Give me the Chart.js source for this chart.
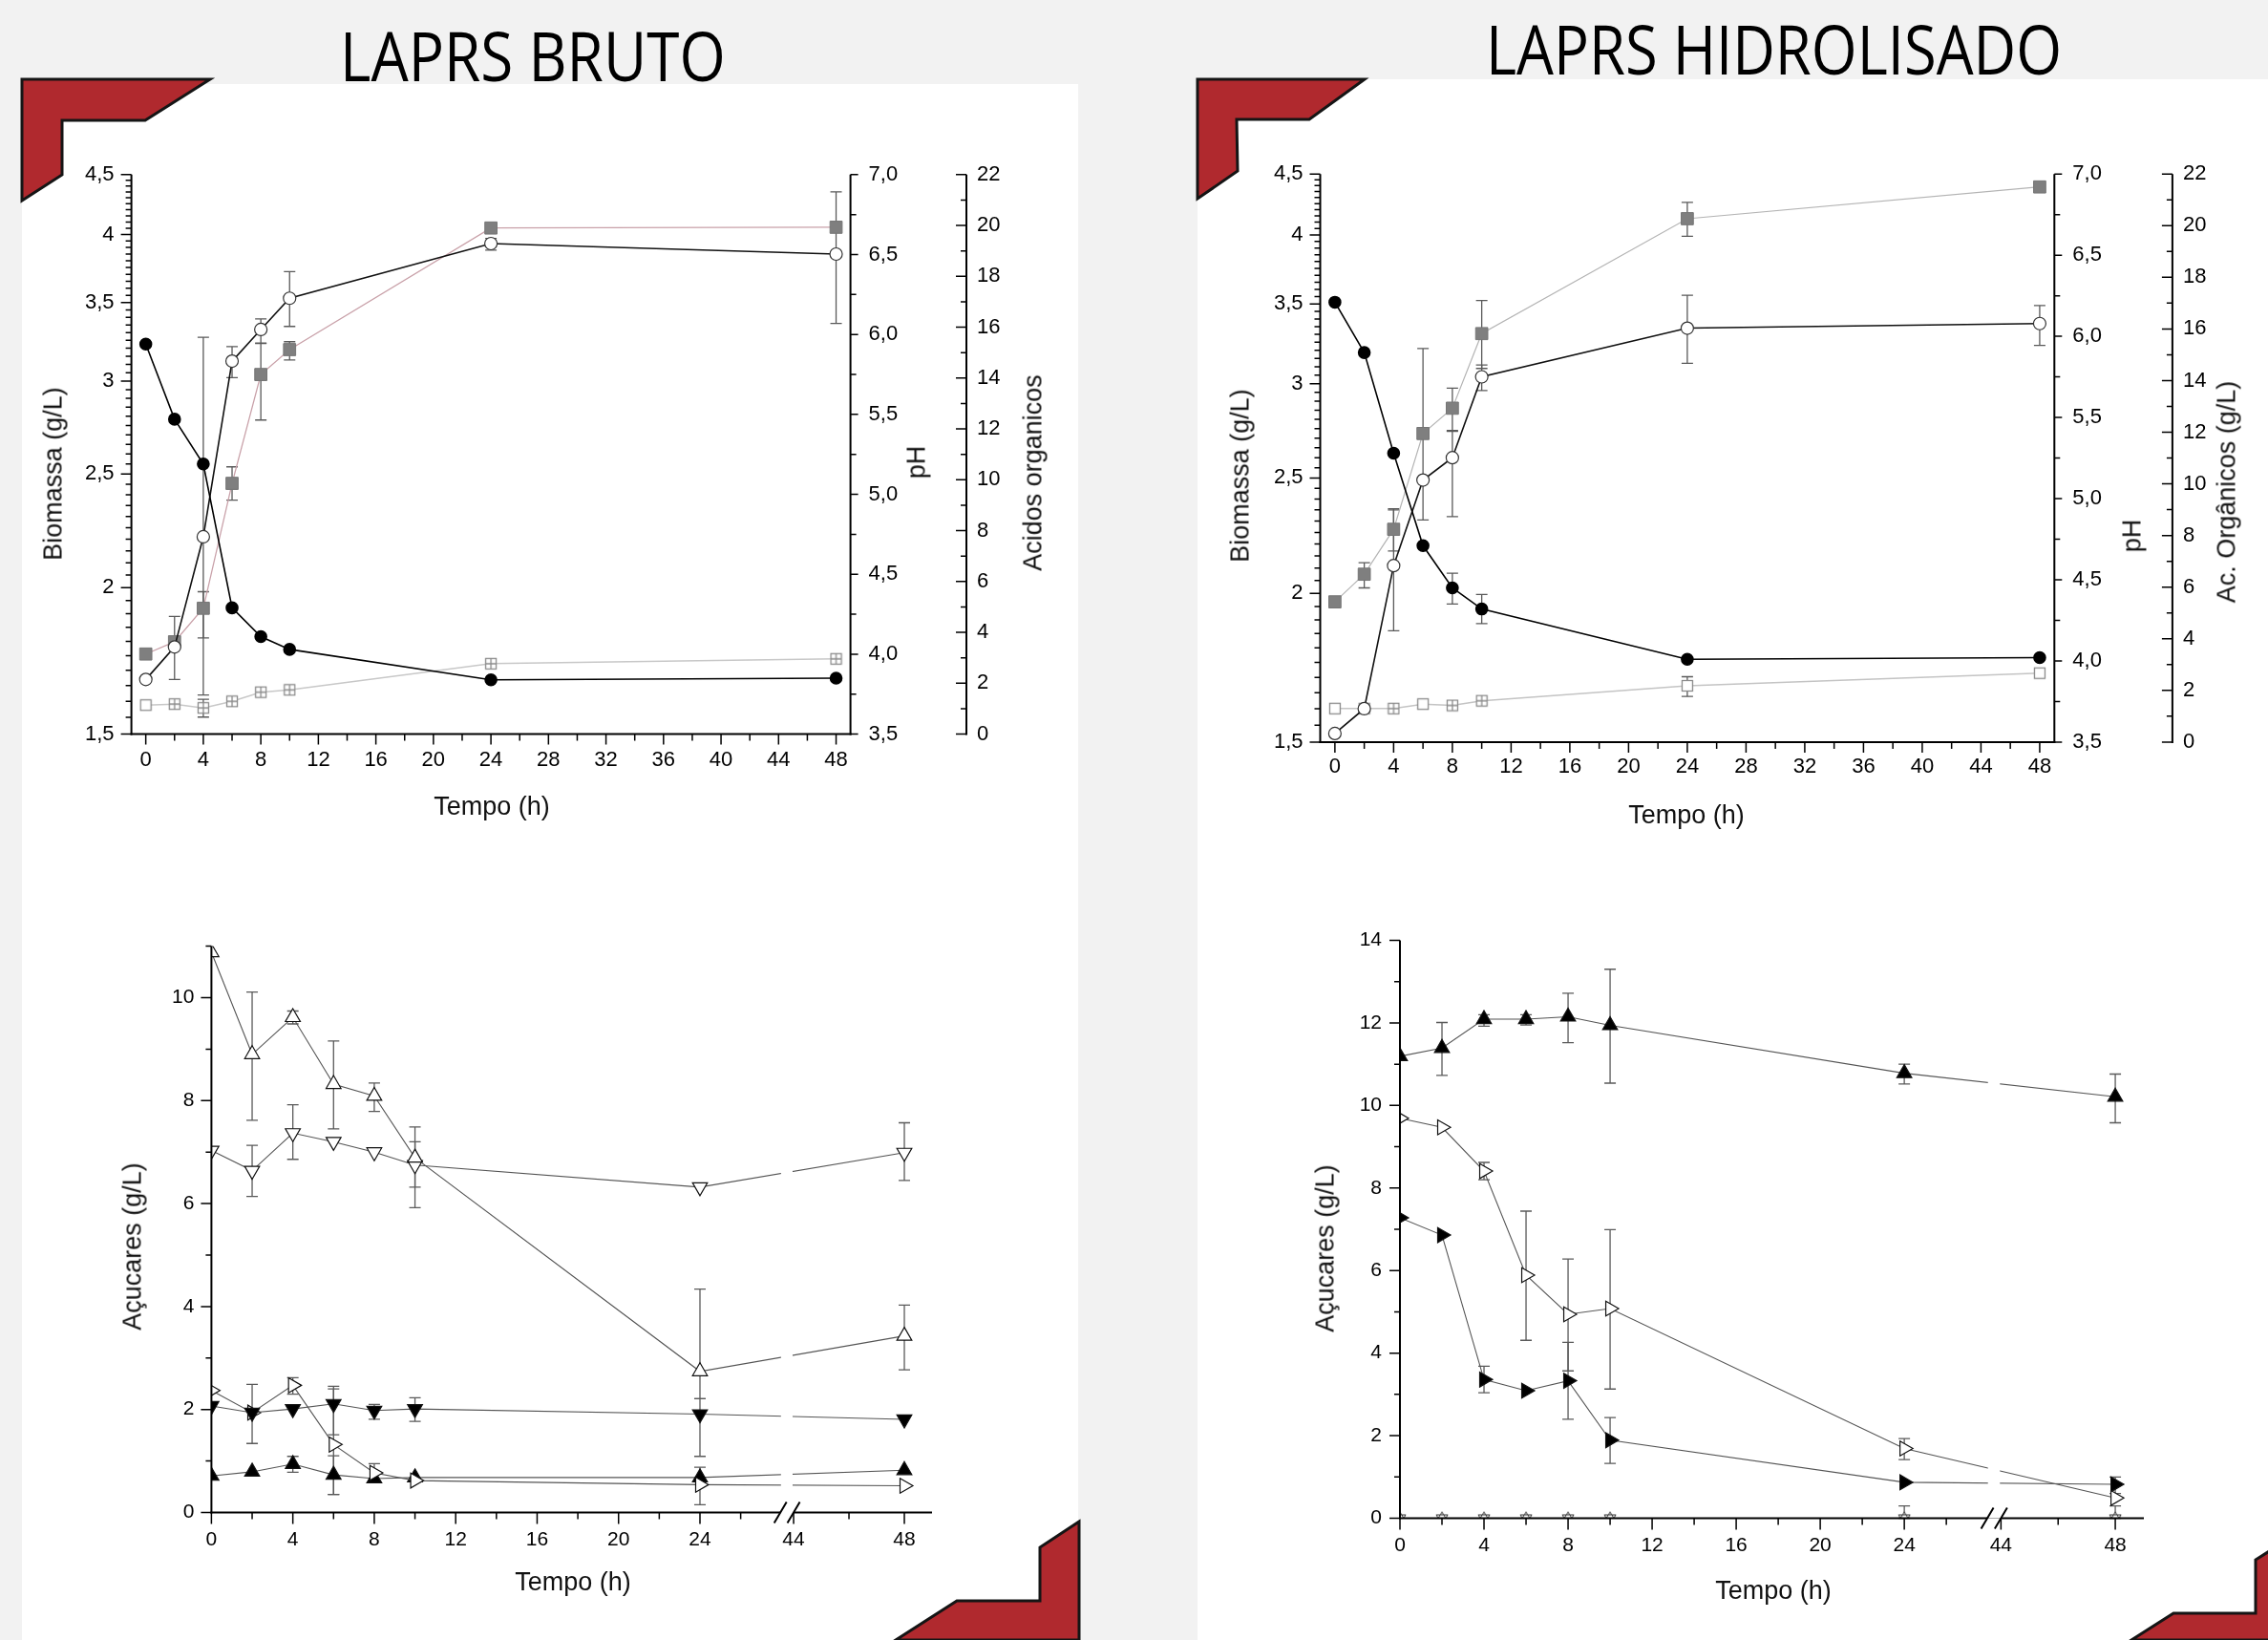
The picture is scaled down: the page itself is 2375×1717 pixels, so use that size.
<!DOCTYPE html>
<html>
<head>
<meta charset="utf-8">
<script src="https://cdn.jsdelivr.net/npm/chart.js@4.4.1/dist/chart.umd.min.js"></script>
<style>
html, body { margin: 0; padding: 0; }
body { width: 2375px; height: 1717px; background: #f2f2f2; position: relative; overflow: hidden; font-family: "Liberation Sans", Arial, sans-serif; }
.panel { position: absolute; background: #fff; }
canvas { position: absolute; }
.lbl { position: absolute; font-size: 27px; color: #111; white-space: nowrap; transform: translate(-50%, -50%); }
.rot { transform: translate(-50%, -50%) rotate(-90deg); }
.big { position: absolute; font-family: "Open Sans", sans-serif; font-size: 71px; line-height: 1; color: #000; white-space: nowrap; transform-origin: 0 0; }
</style>
</head>
<body>
<div class="panel" style="left:23px;top:88px;width:1106px;height:1629px"></div>
<div class="panel" style="left:1254px;top:83px;width:1121px;height:1634px"></div>

<svg width="2375" height="1717" style="position:absolute;left:0;top:0">
  <g fill="#b0292e" stroke="#151515" stroke-width="3">
    <polygon points="23,83 220,83 152,126 65,126 65,183 23,210"/>
    <polygon points="1254,83 1429,83 1371,125 1295,125 1296,179 1254,208"/>
    <polygon points="1130,1593 1089,1620 1089,1676 1002,1676 938,1717 1130,1717"/>
    <polygon points="2378,1623 2362,1633 2362,1689 2276,1689 2232,1717 2378,1717"/>
  </g>
</svg>

<div class="big" id="t1" style="top:22px">LAPRS BRUTO</div>
<div class="big" id="t2" style="top:15px">LAPRS HIDROLISADO</div>

<canvas id="cBruto" width="1070" height="720" style="left:20px;top:150px"></canvas>
<canvas id="cHidro" width="1090" height="720" style="left:1262px;top:150px"></canvas>
<canvas id="cAcuBruto" width="920" height="740" style="left:100px;top:960px"></canvas>
<canvas id="cAcuHidro" width="930" height="750" style="left:1340px;top:950px"></canvas>

<div class="lbl rot" style="left:56px;top:496px">Biomassa (g/L)</div>
<div class="lbl rot" style="left:960px;top:484px">pH</div>
<div class="lbl rot" style="left:1082px;top:495px">Acidos organicos</div>
<div class="lbl" style="left:515px;top:844px">Tempo (h)</div>

<div class="lbl rot" style="left:1299px;top:498px">Biomassa (g/L)</div>
<div class="lbl rot" style="left:2233px;top:561px">pH</div>
<div class="lbl rot" style="left:2332px;top:515px">Ac. Orgânicos (g/L)</div>
<div class="lbl" style="left:1766px;top:853px">Tempo (h)</div>

<div class="lbl rot" style="left:139px;top:1305px">Açucares (g/L)</div>
<div class="lbl" style="left:600px;top:1656px">Tempo (h)</div>

<div class="lbl rot" style="left:1388px;top:1307px">Açucares (g/L)</div>
<div class="lbl" style="left:1857px;top:1665px">Tempo (h)</div>

<script>
// tempos de coleta (h)
const tempo = [0, 2, 4, 6, 8, 10, 24, 48];

// LAPRS bruto - biomassa, pH, acidos
const brutoPH = [5.94, 5.47, 5.19, 4.29, 4.11, 4.03, 3.84, 3.85];
const brutoBio = [1.67, 1.78, 2.21, 3.12, 3.32, 3.53, 3.93, 3.85];
const brutoBioLo = [null, 1.67, 1.62, 3.02, 3.23, 3.34, 3.88, 3.36];
const brutoBioHi = [null, 1.89, 3.27, 3.21, 3.39, 3.72, 3.97, 4.35];
const brutoAcA = [3.15, 3.63, 4.95, 9.86, 14.14, 15.12, 19.9, 19.93];
const brutoAcALo = [null, null, 3.78, 9.2, 12.35, 14.71, null, null];
const brutoAcAHi = [null, null, 5.6, 10.51, 15.38, 15.43, null, null];
const brutoAcB = [1.14, 1.18, 1.03, 1.29, 1.65, 1.74, 2.77, 2.96];
const brutoAcBLo = [null, null, 0.67, null, null, null, null, null];
const brutoAcBHi = [null, null, 1.37, null, null, null, null, null];

// LAPRS hidrolisado - biomassa, pH, acidos
const hidroPH = [6.21, 5.90, 5.28, 4.71, 4.45, 4.32, 4.01, 4.02];
const hidroPHLo = [null, null, null, null, 4.35, 4.23, null, null];
const hidroPHHi = [null, null, null, null, 4.54, 4.41, null, null];
const hidroBio = [1.525, 1.60, 2.11, 2.49, 2.60, 3.04, 3.34, 3.37];
const hidroBioLo = [null, null, 1.86, null, 2.32, 2.96, 3.12, 3.23];
const hidroBioHi = [null, null, 2.35, null, 2.74, 3.11, 3.56, 3.49];
const hidroAcA = [5.43, 6.50, 8.24, 11.95, 12.93, 15.82, 20.27, 21.5];
const hidroAcALo = [null, 5.97, 7.4, 8.6, 12.03, 14.47, 19.59, null];
const hidroAcAHi = [null, 6.95, 9.04, 15.24, 13.71, 17.1, 20.9, null];
const hidroAcB = [1.30, 1.30, 1.30, 1.47, 1.42, 1.60, 2.18, 2.67];
const hidroAcBLo = [null, null, null, null, null, null, 1.77, null];
const hidroAcBHi = [null, null, null, null, null, null, 2.53, null];

// acucares - bruto
const bUpOpen = [10.88, 8.90, 9.62, 8.32, 8.09, 6.89, 2.74, 3.43];
const bUpOpenLo = [null, 7.62, 9.49, 7.45, 7.79, 6.32, 2.21, 2.77];
const bUpOpenHi = [null, 10.11, 9.74, 9.16, 8.34, 7.49, 4.34, 4.03];
const bDownOpen = [7.03, 6.64, 7.37, 7.20, 7.00, 6.75, 6.32, 6.99];
const bDownOpenLo = [null, 6.14, 6.86, null, null, 5.92, null, 6.45];
const bDownOpenHi = [null, 7.13, 7.92, null, null, 7.20, null, 7.57];
const bDownFill = [2.07, 1.94, 2.01, 2.11, 1.98, 2.01, 1.91, 1.81];
const bDownFillLo = [null, 1.34, null, 1.51, 1.81, 1.77, 1.09, null];
const bDownFillHi = [null, 2.49, null, 2.45, 2.10, 2.23, 2.21, null];
const bRightOpen = [2.37, 1.94, 2.47, 1.32, 0.77, 0.62, 0.54, 0.52];
const bRightOpenLo = [null, null, 2.30, 0.35, 0.58, null, null, null];
const bRightOpenHi = [null, null, 2.62, 2.40, 0.95, null, null, null];
const bUpFill = [0.71, 0.79, 0.94, 0.73, 0.66, 0.68, 0.68, 0.82];
const bUpFillLo = [null, null, 0.78, 0.35, null, null, 0.15, null];
const bUpFillHi = [null, null, 1.09, 1.10, null, null, 0.88, null];

// acucares - hidrolisado
const hUpFill = [11.19, 11.39, 12.09, 12.09, 12.15, 11.94, 10.78, 10.21];
const hUpFillLo = [null, 10.73, 11.92, 11.95, 11.52, 10.54, 10.52, 9.58];
const hUpFillHi = [null, 12.01, 12.20, 12.20, 12.72, 13.30, 11.00, 10.76];
const hRightOpen = [9.69, 9.47, 8.41, 5.89, 4.94, 5.08, 1.69, 0.49];
const hRightOpenLo = [null, null, 8.20, 4.31, 3.57, 3.13, 1.42, null];
const hRightOpenHi = [null, null, 8.62, 7.44, 6.28, 6.99, 1.93, null];
const hRightFill = [7.28, 6.86, 3.36, 3.09, 3.33, 1.89, 0.87, 0.82];
const hRightFillLo = [null, null, 3.04, null, 2.40, 1.33, null, 0.60];
const hRightFillHi = [null, null, 3.68, null, 4.26, 2.44, null, 1.00];
const hZero = [0, 0, 0, 0, 0, 0, 0, 0];
const hZeroLo = [null, null, null, null, null, null, 0, 0];
const hZeroHi = [null, null, null, null, null, null, 0.3, 0.3];

// eixos
const bioTicks = [1.5, 2, 2.5, 3, 3.5, 4, 4.5];
const bioLabels = ['1,5', '2', '2,5', '3', '3,5', '4', '4,5'];
const phTicks = [3.5, 4, 4.5, 5, 5.5, 6, 6.5, 7];
const phLabels = ['3,5', '4,0', '4,5', '5,0', '5,5', '6,0', '6,5', '7,0'];
const acTicks = [0, 2, 4, 6, 8, 10, 12, 14, 16, 18, 20, 22];
const acLabels = ['0', '2', '4', '6', '8', '10', '12', '14', '16', '18', '20', '22'];
const hTicks = [0, 4, 8, 12, 16, 20, 24, 28, 32, 36, 40, 44, 48];
const hLabels = ['0', '4', '8', '12', '16', '20', '24', '28', '32', '36', '40', '44', '48'];
const hBrkTicks = [0, 4, 8, 12, 16, 20, 24, 44, 48];
const hBrkLabels = ['0', '4', '8', '12', '16', '20', '24', '44', '48'];
const hBrkMinor = [2, 6, 10, 14, 18, 22, 26, 46];
const acuTicksBruto = [0, 2, 4, 6, 8, 10];
const acuLabelsBruto = ['0', '2', '4', '6', '8', '10'];
const acuTicksHidro = [0, 2, 4, 6, 8, 10, 12, 14];
const acuLabelsHidro = ['0', '2', '4', '6', '8', '10', '12', '14'];

// quebra do eixo do tempo (24 -> 44 h)
const BRK_AT = 28.6, BRK_R = 1.36;
const toU = h => h <= 30 ? h : BRK_AT + (h - 44) * BRK_R;

function range(a, b, step, skip) {
  const out = [];
  for (let k = 0; a + k * step <= b + 1e-9; k++) {
    const v = +(a + k * step).toFixed(4);
    if (!skip || !skip.includes(v)) out.push(v);
  }
  return out;
}
const bioMinor = range(1.55, 4.45, 0.05, [2, 2.5, 3, 3.5, 4]);
const phMinor = range(3.75, 6.75, 0.5);
const acMinor = range(1, 21, 2);
const hMinor = range(2, 46, 4);

const pts = (xs, ys, f) => xs.map((x, i) => ({ x: f ? f(x) : x, y: ys[i] }));
const zip = (lo, hi) => lo.map((v, i) => v == null ? null : [v, hi[i]]);

// marcadores especiais
function squareMark(cross) {
  const c = document.createElement('canvas');
  c.width = c.height = 14;
  const g = c.getContext('2d');
  g.fillStyle = '#fff';
  g.fillRect(1.5, 1.5, 11, 11);
  g.strokeStyle = '#8a8a8a';
  g.lineWidth = 1.3;
  g.strokeRect(1.5, 1.5, 11, 11);
  if (cross) {
    g.beginPath();
    g.moveTo(7, 1.5); g.lineTo(7, 12.5);
    g.moveTo(1.5, 7); g.lineTo(12.5, 7);
    g.stroke();
  }
  return c;
}
function hexaMark() {
  const c = document.createElement('canvas');
  c.width = c.height = 16;
  const g = c.getContext('2d');
  g.strokeStyle = '#333';
  g.lineWidth = 1;
  g.fillStyle = '#fff';
  g.beginPath();
  g.moveTo(8, 1.5); g.lineTo(14, 11.5); g.lineTo(2, 11.5); g.closePath();
  g.fill(); g.stroke();
  g.beginPath();
  g.moveTo(8, 14.5); g.lineTo(14, 4.5); g.lineTo(2, 4.5); g.closePath();
  g.stroke();
  return c;
}
const sqO = squareMark(false), sqX = squareMark(true), hexa = hexaMark();

// barras de erro
const errBars = {
  id: 'errBars',
  beforeDatasetsDraw(chart) {
    const ctx = chart.ctx;
    ctx.save();
    ctx.strokeStyle = '#5a5a5a';
    ctx.lineWidth = 1.3;
    chart.data.datasets.forEach((ds, i) => {
      if (!ds.err) return;
      const meta = chart.getDatasetMeta(i);
      const ys = chart.scales[meta.yAxisID];
      ds.err.forEach((e, j) => {
        if (!e) return;
        const x = meta.data[j].x;
        const y1 = ys.getPixelForValue(e[0]), y2 = ys.getPixelForValue(e[1]);
        ctx.beginPath();
        ctx.moveTo(x, y1); ctx.lineTo(x, y2);
        ctx.moveTo(x - 6, y1); ctx.lineTo(x + 6, y1);
        ctx.moveTo(x - 6, y2); ctx.lineTo(x + 6, y2);
        ctx.stroke();
      });
    });
    ctx.restore();
  }
};

// linhas dos eixos + marcas (maiores e menores)
function axisDeco(spec, brk) {
  return {
    id: 'axisDeco',
    afterDatasetsDraw(chart) {
      if (!brk) return;
      const { ctx, chartArea: a } = chart;
      const xs = chart.scales.x;
      const p1 = xs.getPixelForValue(brk.gap[0]), p2 = xs.getPixelForValue(brk.gap[1]);
      ctx.save();
      ctx.fillStyle = '#fff';
      ctx.fillRect(p1, a.top - 10, p2 - p1, a.bottom - a.top + 8);
      ctx.restore();
    },
    afterDraw(chart) {
      const { ctx, chartArea: a } = chart;
      ctx.save();
      ctx.strokeStyle = '#000';
      for (const ax of spec) {
        const s = chart.scales[ax.id];
        ctx.lineWidth = 2;
        ctx.beginPath();
        if (s.isHorizontal()) {
          const y = a.bottom;
          if (brk) {
            ctx.moveTo(a.left - 1, y); ctx.lineTo(s.getPixelForValue(brk.slash[0]), y);
            ctx.moveTo(s.getPixelForValue(brk.slash[1]), y); ctx.lineTo(a.right, y);
          } else {
            ctx.moveTo(a.left - 1, y); ctx.lineTo(a.right + 1, y);
          }
          ctx.stroke();
          ctx.lineWidth = 1.5;
          ctx.beginPath();
          ax.major.forEach(v => { const x = s.getPixelForValue(v); ctx.moveTo(x, y); ctx.lineTo(x, y + ax.len); });
          ax.minor.forEach(v => { const x = s.getPixelForValue(v); ctx.moveTo(x, y); ctx.lineTo(x, y + ax.mlen); });
          ctx.stroke();
        } else {
          const x = ax.side === 'left' ? a.left : s.left;
          ctx.moveTo(x, a.top); ctx.lineTo(x, a.bottom + 1);
          ctx.stroke();
          ctx.lineWidth = 1.5;
          ctx.beginPath();
          ax.major.forEach(v => { const y = s.getPixelForValue(v); ctx.moveTo(x, y); ctx.lineTo(x + ax.dir * ax.len, y); });
          ax.minor.forEach(v => { const y = s.getPixelForValue(v); ctx.moveTo(x, y); ctx.lineTo(x + ax.dir * ax.mlen, y); });
          ctx.stroke();
        }
      }
      if (brk) {
        const xs = chart.scales.x, y = a.bottom;
        ctx.lineWidth = 2;
        ctx.beginPath();
        brk.slash.forEach(u => {
          const x = xs.getPixelForValue(u);
          ctx.moveTo(x - 6.5, y + 11); ctx.lineTo(x + 6.5, y - 11);
        });
        ctx.stroke();
      }
      ctx.restore();
    }
  };
}

function tk(size, pad, labels) {
  return {
    color: '#000', font: { family: 'Liberation Sans', size: size }, padding: pad,
    autoSkip: false, maxRotation: 0, minRotation: 0,
    callback: (v, i) => labels[i]
  };
}
const setTicks = vals => s => { s.ticks = vals.map(v => ({ value: v })); };
const fixW = w => s => { s.width = w; };
const fixH = h => s => { s.height = h; };
const hidden = { grid: { display: false, drawTicks: false }, border: { display: false } };

function baseOpts(padding, scales) {
  return {
    animation: false, responsive: false, devicePixelRatio: 1,
    layout: { padding: padding },
    plugins: { legend: { display: false }, tooltip: { enabled: false } },
    scales: scales
  };
}

// ---------- LAPRS bruto: biomassa / pH / acidos ----------
new Chart(document.getElementById('cBruto'), {
  type: 'line',
  data: {
    datasets: [
      { yAxisID: 'ph', data: pts(tempo, brutoPH), borderColor: '#000', borderWidth: 1.6,
        pointStyle: 'circle', pointRadius: 6, pointBackgroundColor: '#000', pointBorderColor: '#000' },
      { yAxisID: 'y', data: pts(tempo, brutoBio), err: zip(brutoBioLo, brutoBioHi), borderColor: '#111', borderWidth: 1.6,
        pointStyle: 'circle', pointRadius: 6.5, pointBackgroundColor: '#fff', pointBorderColor: '#333', pointBorderWidth: 1.2 },
      { yAxisID: 'ac', data: pts(tempo, brutoAcA), err: zip(brutoAcALo, brutoAcAHi), borderColor: '#c9a1a9', borderWidth: 1.3,
        pointStyle: 'rect', pointRadius: 9, pointBackgroundColor: '#7f7f7f', pointBorderColor: '#757575', pointBorderWidth: 1 },
      { yAxisID: 'ac', data: pts(tempo, brutoAcB), err: zip(brutoAcBLo, brutoAcBHi), borderColor: '#c8c8c8', borderWidth: 1.5,
        pointStyle: [sqO, sqX, sqX, sqX, sqX, sqX, sqX, sqX], pointRadius: 7 }
    ]
  },
  options: baseOpts({ top: 32.8, left: 0, right: 18, bottom: 41.4 }, {
    x: Object.assign({ type: 'linear', position: 'bottom', min: -1, max: 49,
      afterBuildTicks: setTicks(hTicks), afterFit: fixH(60), ticks: tk(22, 14, hLabels) }, hidden),
    y: Object.assign({ type: 'logarithmic', position: 'left', min: 1.5, max: 4.5,
      afterBuildTicks: setTicks(bioTicks), afterFit: fixW(117.6), ticks: tk(22, 18, bioLabels) }, hidden),
    ph: Object.assign({ type: 'linear', position: 'right', weight: 1, min: 3.5, max: 7,
      afterBuildTicks: setTicks(phTicks), afterFit: fixW(121.4), ticks: tk(22, 19, phLabels) }, hidden),
    ac: Object.assign({ type: 'linear', position: 'right', weight: 2, min: 0, max: 22,
      afterBuildTicks: setTicks(acTicks), afterFit: fixW(60), ticks: tk(22, 11, acLabels) }, hidden)
  }),
  plugins: [errBars, axisDeco([
    { id: 'x', major: hTicks, minor: hMinor, len: 11, mlen: 7 },
    { id: 'y', side: 'left', dir: -1, major: bioTicks, minor: bioMinor, len: 11, mlen: 6 },
    { id: 'ph', side: 'right', dir: 1, major: phTicks, minor: phMinor, len: 8, mlen: 6 },
    { id: 'ac', side: 'right', dir: -1, major: acTicks, minor: acMinor, len: 11, mlen: 6 }
  ])]
});

// ---------- LAPRS hidrolisado: biomassa / pH / acidos ----------
new Chart(document.getElementById('cHidro'), {
  type: 'line',
  data: {
    datasets: [
      { yAxisID: 'ph', data: pts(tempo, hidroPH), err: zip(hidroPHLo, hidroPHHi), borderColor: '#000', borderWidth: 1.6,
        pointStyle: 'circle', pointRadius: 6, pointBackgroundColor: '#000', pointBorderColor: '#000' },
      { yAxisID: 'y', data: pts(tempo, hidroBio), err: zip(hidroBioLo, hidroBioHi), borderColor: '#111', borderWidth: 1.6,
        pointStyle: 'circle', pointRadius: 6.5, pointBackgroundColor: '#fff', pointBorderColor: '#333', pointBorderWidth: 1.2 },
      { yAxisID: 'ac', data: pts(tempo, hidroAcA), err: zip(hidroAcALo, hidroAcAHi), borderColor: '#b4b4b4', borderWidth: 1.2,
        pointStyle: 'rect', pointRadius: 9, pointBackgroundColor: '#7f7f7f', pointBorderColor: '#757575', pointBorderWidth: 1 },
      { yAxisID: 'ac', data: pts(tempo, hidroAcB), err: zip(hidroAcBLo, hidroAcBHi), borderColor: '#c4c4c4', borderWidth: 1.5,
        pointStyle: [sqO, sqX, sqX, sqO, sqX, sqX, sqO, sqO], pointRadius: 7 }
    ]
  },
  options: baseOpts({ top: 29.5, left: 0, right: 22.1, bottom: 33.1 }, {
    x: Object.assign({ type: 'linear', position: 'bottom', min: -1, max: 49,
      afterBuildTicks: setTicks(hTicks), afterFit: fixH(60), ticks: tk(22, 13, hLabels) }, hidden),
    y: Object.assign({ type: 'logarithmic', position: 'left', min: 1.5, max: 4.5,
      afterBuildTicks: setTicks(bioTicks), afterFit: fixW(120.5), ticks: tk(22, 18, bioLabels) }, hidden),
    ph: Object.assign({ type: 'linear', position: 'right', weight: 1, min: 3.5, max: 7,
      afterBuildTicks: setTicks(phTicks), afterFit: fixW(123.6), ticks: tk(22, 19, phLabels) }, hidden),
    ac: Object.assign({ type: 'linear', position: 'right', weight: 2, min: 0, max: 22,
      afterBuildTicks: setTicks(acTicks), afterFit: fixW(55), ticks: tk(22, 11, acLabels) }, hidden)
  }),
  plugins: [errBars, axisDeco([
    { id: 'x', major: hTicks, minor: hMinor, len: 11, mlen: 7 },
    { id: 'y', side: 'left', dir: -1, major: bioTicks, minor: bioMinor, len: 11, mlen: 6 },
    { id: 'ph', side: 'right', dir: 1, major: phTicks, minor: phMinor, len: 8, mlen: 6 },
    { id: 'ac', side: 'right', dir: -1, major: acTicks, minor: acMinor, len: 11, mlen: 6 }
  ])]
});

// ---------- acucares ----------
const sugLine = { borderColor: '#555', borderWidth: 1.1, pointRadius: 9, pointBorderColor: '#111', pointBorderWidth: 1.2 };
const brkSpec = { gap: [27.98, 28.55], slash: [27.95, 28.6] };

new Chart(document.getElementById('cAcuBruto'), {
  type: 'line',
  data: {
    datasets: [
      Object.assign({ data: pts(tempo, bUpOpen, toU), err: zip(bUpOpenLo, bUpOpenHi),
        pointStyle: 'triangle', pointRotation: 0, pointBackgroundColor: '#fff' }, sugLine),
      Object.assign({ data: pts(tempo, bDownOpen, toU), err: zip(bDownOpenLo, bDownOpenHi),
        pointStyle: 'triangle', pointRotation: 180, pointBackgroundColor: '#fff' }, sugLine),
      Object.assign({ data: pts(tempo, bDownFill, toU), err: zip(bDownFillLo, bDownFillHi),
        pointStyle: 'triangle', pointRotation: 180, pointBackgroundColor: '#000' }, sugLine),
      Object.assign({ data: pts(tempo, bRightOpen, toU), err: zip(bRightOpenLo, bRightOpenHi),
        pointStyle: 'triangle', pointRotation: 90, pointBackgroundColor: '#fff' }, sugLine),
      Object.assign({ data: pts(tempo, bUpFill, toU), err: zip(bUpFillLo, bUpFillHi),
        pointStyle: 'triangle', pointRotation: 0, pointBackgroundColor: '#000' }, sugLine)
    ]
  },
  options: baseOpts({ top: 30.05, left: 0, right: 44, bottom: 56.5 }, {
    x: Object.assign({ type: 'linear', position: 'bottom', min: 0, max: 35.4,
      afterBuildTicks: setTicks(hBrkTicks.map(toU)), afterFit: fixH(60), ticks: tk(21, 16, hBrkLabels) }, hidden),
    y: Object.assign({ type: 'linear', position: 'left', min: 0, max: 11,
      afterBuildTicks: setTicks(acuTicksBruto), afterFit: fixW(121.4), ticks: tk(21, 18, acuLabelsBruto) }, hidden)
  }),
  plugins: [errBars, axisDeco([
    { id: 'x', major: hBrkTicks.map(toU), minor: hBrkMinor.map(toU), len: 12, mlen: 7 },
    { id: 'y', side: 'left', dir: -1, major: acuTicksBruto, minor: range(1, 11, 2), len: 11, mlen: 6 }
  ], brkSpec)]
});

new Chart(document.getElementById('cAcuHidro'), {
  type: 'line',
  data: {
    datasets: [
      Object.assign({ data: pts(tempo, hUpFill, toU), err: zip(hUpFillLo, hUpFillHi),
        pointStyle: 'triangle', pointRotation: 0, pointBackgroundColor: '#000' }, sugLine),
      Object.assign({ data: pts(tempo, hRightOpen, toU), err: zip(hRightOpenLo, hRightOpenHi),
        pointStyle: 'triangle', pointRotation: 90, pointBackgroundColor: '#fff' }, sugLine),
      Object.assign({ data: pts(tempo, hRightFill, toU), err: zip(hRightFillLo, hRightFillHi),
        pointStyle: 'triangle', pointRotation: 90, pointBackgroundColor: '#000' }, sugLine),
      Object.assign({}, sugLine, { data: pts(tempo, hZero, toU), err: zip(hZeroLo, hZeroHi),
        pointStyle: hexa, pointRadius: 8 })
    ]
  },
  options: baseOpts({ top: 34.5, left: 0, right: 25, bottom: 50.5 }, {
    x: Object.assign({ type: 'linear', position: 'bottom', min: 0, max: 35.4,
      afterBuildTicks: setTicks(hBrkTicks.map(toU)), afterFit: fixH(60), ticks: tk(21, 16, hBrkLabels) }, hidden),
    y: Object.assign({ type: 'linear', position: 'left', min: 0, max: 14,
      afterBuildTicks: setTicks(acuTicksHidro), afterFit: fixW(126), ticks: tk(21, 19, acuLabelsHidro) }, hidden)
  }),
  plugins: [errBars, axisDeco([
    { id: 'x', major: hBrkTicks.map(toU), minor: hBrkMinor.map(toU), len: 12, mlen: 7 },
    { id: 'y', side: 'left', dir: -1, major: acuTicksHidro, minor: range(1, 13, 2), len: 11, mlen: 6 }
  ], brkSpec)]
});

// titulos grandes ajustados a largura
function fitTitle(id, cx, target) {
  const el = document.getElementById(id);
  const w = el.offsetWidth;
  el.style.left = (cx - target / 2) + 'px';
  el.style.transform = 'scaleX(' + (target / w) + ')';
}
fitTitle('t1', 558, 404);
fitTitle('t2', 1857, 603);
</script>
</body>
</html>
